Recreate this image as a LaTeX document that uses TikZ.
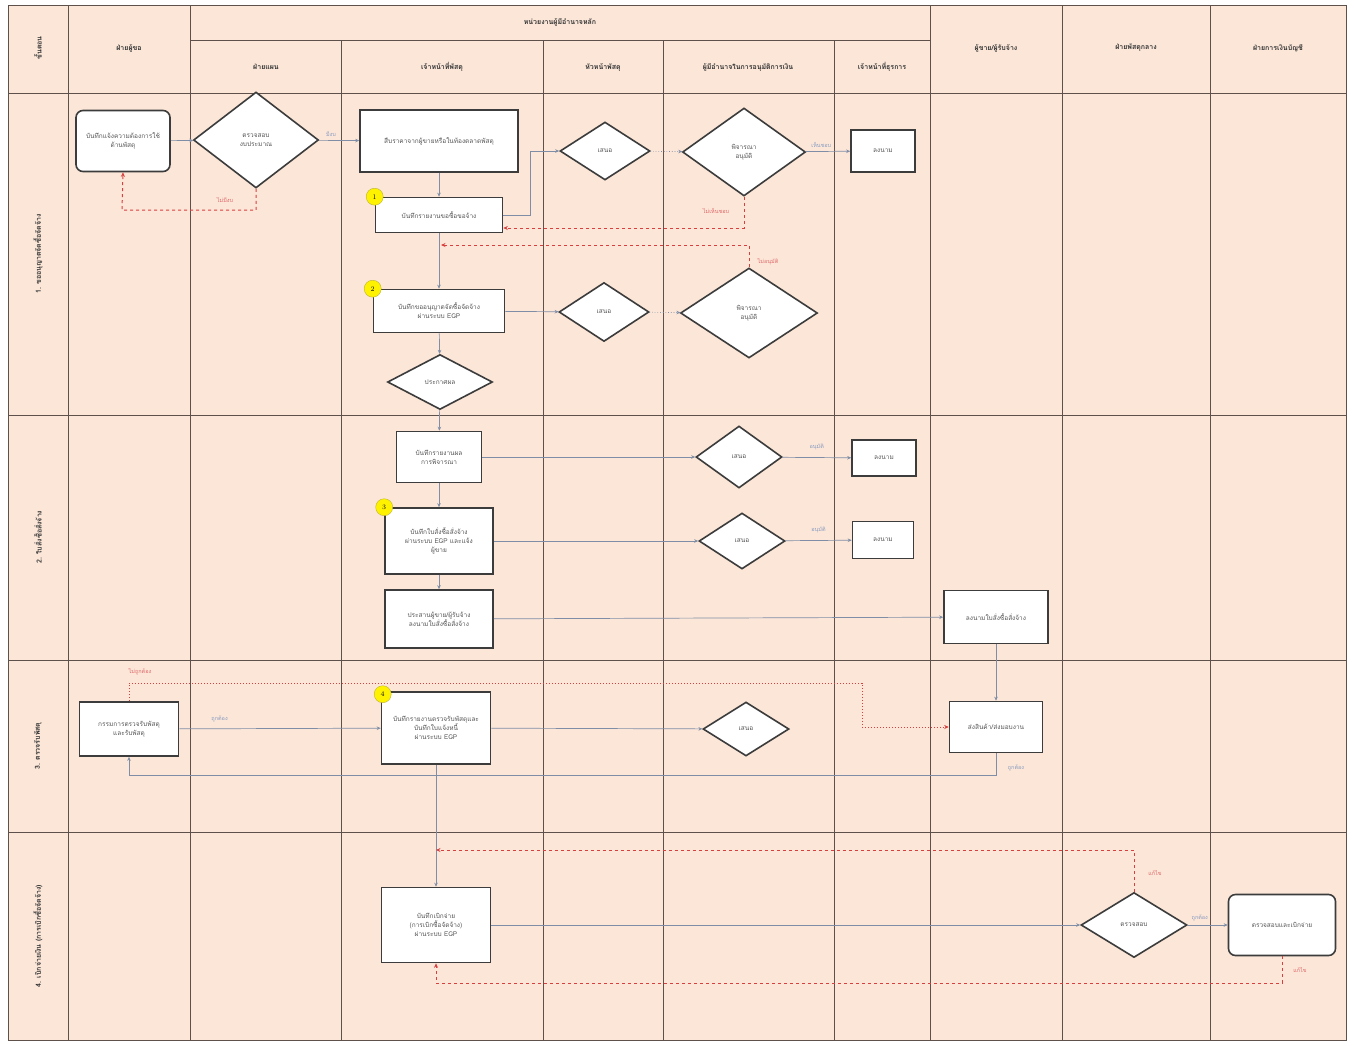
\documentclass[tikz,border=0pt]{standalone}
\usepackage{fontspec}
\newfontfamily\thai[Script=Thai]{Loma}
\usetikzlibrary{shapes.geometric,arrows.meta,calc}
\definecolor{bgc}{HTML}{FBE6D8}
\definecolor{gridc}{HTML}{5E504A}
\definecolor{connc}{HTML}{7F8EA6}
\definecolor{negc}{HTML}{D84040}
\definecolor{poslab}{HTML}{8A9CC0}
\definecolor{neglab}{HTML}{E06A6A}
\definecolor{txtc}{HTML}{555555}
\definecolor{shapeln}{HTML}{3C3C3C}
\tikzset{
  base/.style={font=\thai\fontsize{6.5}{9}\selectfont, text=txtc, align=center},
  boxn/.style={base, draw=shapeln, line width=1.6pt, fill=white, inner sep=1pt},
  rboxn/.style={boxn, rounded corners=7pt},
  dia/.style={base, shape=diamond, draw=shapeln, line width=1.6pt, fill=white, inner sep=0pt},
  hdr/.style={font=\thai\bfseries\fontsize{7}{9}\selectfont, text=black!80, align=center},
  rowlab/.style={font=\thai\bfseries\fontsize{7}{9}\selectfont, text=black!80, rotate=90},
  badge/.style={circle, fill=yellow, draw=yellow!70!black, line width=0.4pt, minimum size=17pt, inner sep=0pt, font=\fontsize{7}{8}\selectfont},
  conn/.style={draw=connc, line width=0.7pt, -{Stealth[length=4pt,width=3.5pt]}},
  neg/.style={draw=negc, line width=1pt, dashed, -{Stealth[length=4.5pt,width=4pt]}},
  negdot/.style={draw=negc, line width=0.7pt, dash pattern=on 1.5pt off 1.5pt, -{Stealth[length=4.5pt,width=4pt]}},
  plab/.style={font=\thai\fontsize{5.5}{7}\selectfont, text=poslab},
  nlab/.style={font=\thai\fontsize{5.5}{7}\selectfont, text=neglab},
}
\begin{document}
\begin{tikzpicture}[x=1pt,y=-1pt]
\useasboundingbox (0,0) rectangle (1354,1045);
\fill[white] (0,0) rectangle (1354,1045);
\fill[bgc] (8,5) rectangle (1346,1040);
% grid
\begin{scope}[draw=gridc, line width=1pt]
\draw (8,5) rectangle (1346,1040);
\foreach \x in {68,190,930,1062,1210} \draw (\x,5) -- (\x,1040);
\foreach \x in {341,543,663,834} \draw (\x,40) -- (\x,1040);
\draw (190,40) -- (930,40);
\foreach \y in {93,415,660,832} \draw (8,\y) -- (1346,\y);
\end{scope}
% headers
\node[hdr, rotate=90] (h0) at (38,48) {ขั้นตอน};
\node[hdr] (h1) at (129,48) {ฝ่ายผู้ขอ};
\node[hdr] (h2) at (560,22) {หน่วยงานผู้มีอำนาจหลัก};
\node[hdr] (h3) at (266,67) {ฝ่ายแผน};
\node[hdr] (h4) at (442,67) {เจ้าหน้าที่พัสดุ};
\node[hdr] (h5) at (603,67) {หัวหน้าพัสดุ};
\node[hdr] (h6) at (748,67) {ผู้มีอำนาจในการอนุมัติการเงิน};
\node[hdr] (h7) at (882,67) {เจ้าหน้าที่ธุรการ};
\node[hdr] (h8) at (996,48) {ผู้ขาย/ผู้รับจ้าง};
\node[hdr] (h9) at (1136,48) {ฝ่ายพัสดุกลาง};
\node[hdr] (h10) at (1278,48) {ฝ่ายการเงินบัญชี};
% row labels
\node[rowlab] (r1) at (38,254) {1. ขออนุญาตจัดซื้อจัดจ้าง};
\node[rowlab] (r2) at (38,537) {2. ใบสั่งซื้อสั่งจ้าง};
\node[rowlab] (r3) at (38,746) {3. ตรวจรับพัสดุ};
\node[rowlab] (r4) at (38,936) {4. เบิกจ่ายเงิน (การเบิกซื้อจัดจ้าง)};
% row 1 nodes
\node[rboxn, minimum width=94pt, minimum height=61pt] (start) at (123,141) {บันทึกแจ้งความต้องการใช้\\ด้านพัสดุ};
\node[dia, minimum width=125pt, minimum height=96pt] (D1) at (256,140) {ตรวจสอบ\\งบประมาณ};
\node[boxn, minimum width=158pt, minimum height=62pt] (B1) at (439,141) {สืบราคาจากผู้ขายหรือในท้องตลาดพัสดุ};
\node[boxn, minimum width=127pt, minimum height=35pt] (B2) at (439,215) {บันทึกรายงานขอซื้อขอจ้าง};
\node[dia, minimum width=90pt, minimum height=58pt] (D2) at (605,151) {เสนอ};
\node[dia, minimum width=123pt, minimum height=88pt] (D3) at (744,152) {พิจารณา\\อนุมัติ};
\node[boxn, minimum width=64pt, minimum height=42pt] (B3) at (883,151) {ลงนาม};
\node[boxn, minimum width=131pt, minimum height=43pt] (B4) at (439,311) {บันทึกขออนุญาตจัดซื้อจัดจ้าง\\ผ่านระบบ EGP};
\node[dia, minimum width=90pt, minimum height=59pt] (D4) at (604,312) {เสนอ};
\node[dia, minimum width=137pt, minimum height=90pt] (D5) at (749,313) {พิจารณา\\อนุมัติ};
\node[dia, minimum width=105pt, minimum height=55pt] (D6) at (440,382) {ประกาศผล};
% row 2 nodes
\node[boxn, minimum width=85pt, minimum height=51pt] (B5) at (439,457) {บันทึกรายงานผล\\การพิจารณา};
\node[dia, minimum width=86pt, minimum height=62pt] (D7) at (739,457) {เสนอ};
\node[boxn, minimum width=64pt, minimum height=36pt] (B6) at (884,458) {ลงนาม};
\node[boxn, minimum width=108pt, minimum height=66pt] (B7) at (439,541) {บันทึกใบสั่งซื้อสั่งจ้าง\\ผ่านระบบ EGP และแจ้ง\\ผู้ขาย};
\node[dia, minimum width=86pt, minimum height=56pt] (D8) at (742,541) {เสนอ};
\node[boxn, minimum width=61pt, minimum height=37pt] (B8) at (883,540) {ลงนาม};
\node[boxn, minimum width=108pt, minimum height=58pt] (B9) at (439,619) {ประสานผู้ขาย/ผู้รับจ้าง\\ลงนามใบสั่งซื้อสั่งจ้าง};
\node[boxn, minimum width=104pt, minimum height=53pt] (B10) at (996,617) {ลงนามใบสั่งซื้อสั่งจ้าง};
% row 3 nodes
\node[boxn, minimum width=99pt, minimum height=54pt] (B11) at (129,729) {กรรมการตรวจรับพัสดุ\\และรับพัสดุ};
\node[boxn, minimum width=109pt, minimum height=72pt] (B12) at (436,728) {บันทึกรายงานตรวจรับพัสดุและ\\บันทึกใบแจ้งหนี้\\ผ่านระบบ EGP};
\node[dia, minimum width=86pt, minimum height=54pt] (D9) at (746,729) {เสนอ};
\node[boxn, minimum width=93pt, minimum height=51pt] (B13) at (996,727) {ส่งสินค้า/ส่งมอบงาน};
% row 4 nodes
\node[boxn, minimum width=109pt, minimum height=75pt] (B14) at (436,925) {บันทึกเบิกจ่าย\\(การเบิกซื้อจัดจ้าง)\\ผ่านระบบ EGP};
\node[dia, minimum width=106pt, minimum height=65pt] (D10) at (1134,925) {ตรวจสอบ};
\node[rboxn, minimum width=107pt, minimum height=61pt] (B15) at (1282,925) {ตรวจสอบและเบิกจ่าย};
% badges
\node[badge] (n1) at (B2.north west) {1};
\node[badge] (n2) at (B4.north west) {2};
\node[badge] (n3) at (B7.north west) {3};
\node[badge] (n4) at ([xshift=2pt,yshift=-3pt]B12.north west) {4};
% named bend points
\coordinate (k1) at (122,210);
\coordinate (k2) at (441,245);
\coordinate (k3) at (862,683);
\coordinate (k4) at (436,850);
\coordinate (k5) at (436,983);
\coordinate (k6) at (530,151);
% connectors row 1
\draw[conn] (start) -- (D1);
\draw[conn] (D1) -- node[plab, above, pos=0.3] (l1) {มีงบ} (B1);
\draw[neg] (D1.south) |- (k1) -- (start.south);
\node[nlab] (l2) at (225,200) {ไม่มีงบ};
\draw[conn] (B1) -- (B2);
\draw[conn] (B2.east) -| (k6) -- (D2.west);
\draw[conn, dotted] (D2) -- (D3);
\draw[conn] (D3) -- node[plab, above, pos=0.35] (l3) {เห็นชอบ} (B3);
\draw[neg] (D3.south) |- ($(B2.east)+(0,13)$);
\node[nlab] (l4) at (716,211) {ไม่เห็นชอบ};
\draw[conn] (B2) -- (B4);
\draw[neg] (D5.north) |- (k2);
\node[nlab] (l5) at (768,262) {ไม่อนุมัติ};
\draw[conn] (B4) -- (D4);
\draw[conn, dotted] (D4) -- (D5);
\draw[conn] (B4) -- (D6);
% row 2
\draw[conn] (D6) -- (B5);
\draw[conn] (B5) -- (D7);
\draw[conn] (D7) -- node[plab, above, pos=0.5, yshift=4pt] (l6) {อนุมัติ} (B6);
\draw[conn] (B5) -- (B7);
\draw[conn] (B7) -- (D8);
\draw[conn] (D8) -- node[plab, above, pos=0.5, yshift=4pt] (l7) {อนุมัติ} (B8);
\draw[conn] (B7) -- (B9);
\draw[conn] (B9) -- (B10);
\draw[conn] (B10) -- (B13);
% row 3
\draw[conn] (B13.south) -- ++(0,22) -| (B11.south);
\node[plab] (l8) at (1016,768) {ถูกต้อง};
\draw[conn] (B11) -- node[plab, above, pos=0.2, yshift=3pt] (l9) {ถูกต้อง} (B12);
\draw[negdot] (B11.north) |- (k3) |- (B13.west);
\node[nlab] (l10) at (140,672) {ไม่ถูกต้อง};
\draw[conn] (B12) -- (D9);
\draw[conn] (B12) -- (B14);
% row 4
\draw[neg] (D10.north) |- (k4);
\node[nlab] (l11) at (1155,873) {แก้ไข};
\draw[conn] (B14) -- (D10);
\draw[conn] (D10) -- node[plab, above, pos=0.3] (l12) {ถูกต้อง} (B15);
\draw[neg] (B15.south) |- (k5) -- (B14.south);
\node[nlab] (l13) at (1300,970) {แก้ไข};
\end{tikzpicture}
\end{document}
